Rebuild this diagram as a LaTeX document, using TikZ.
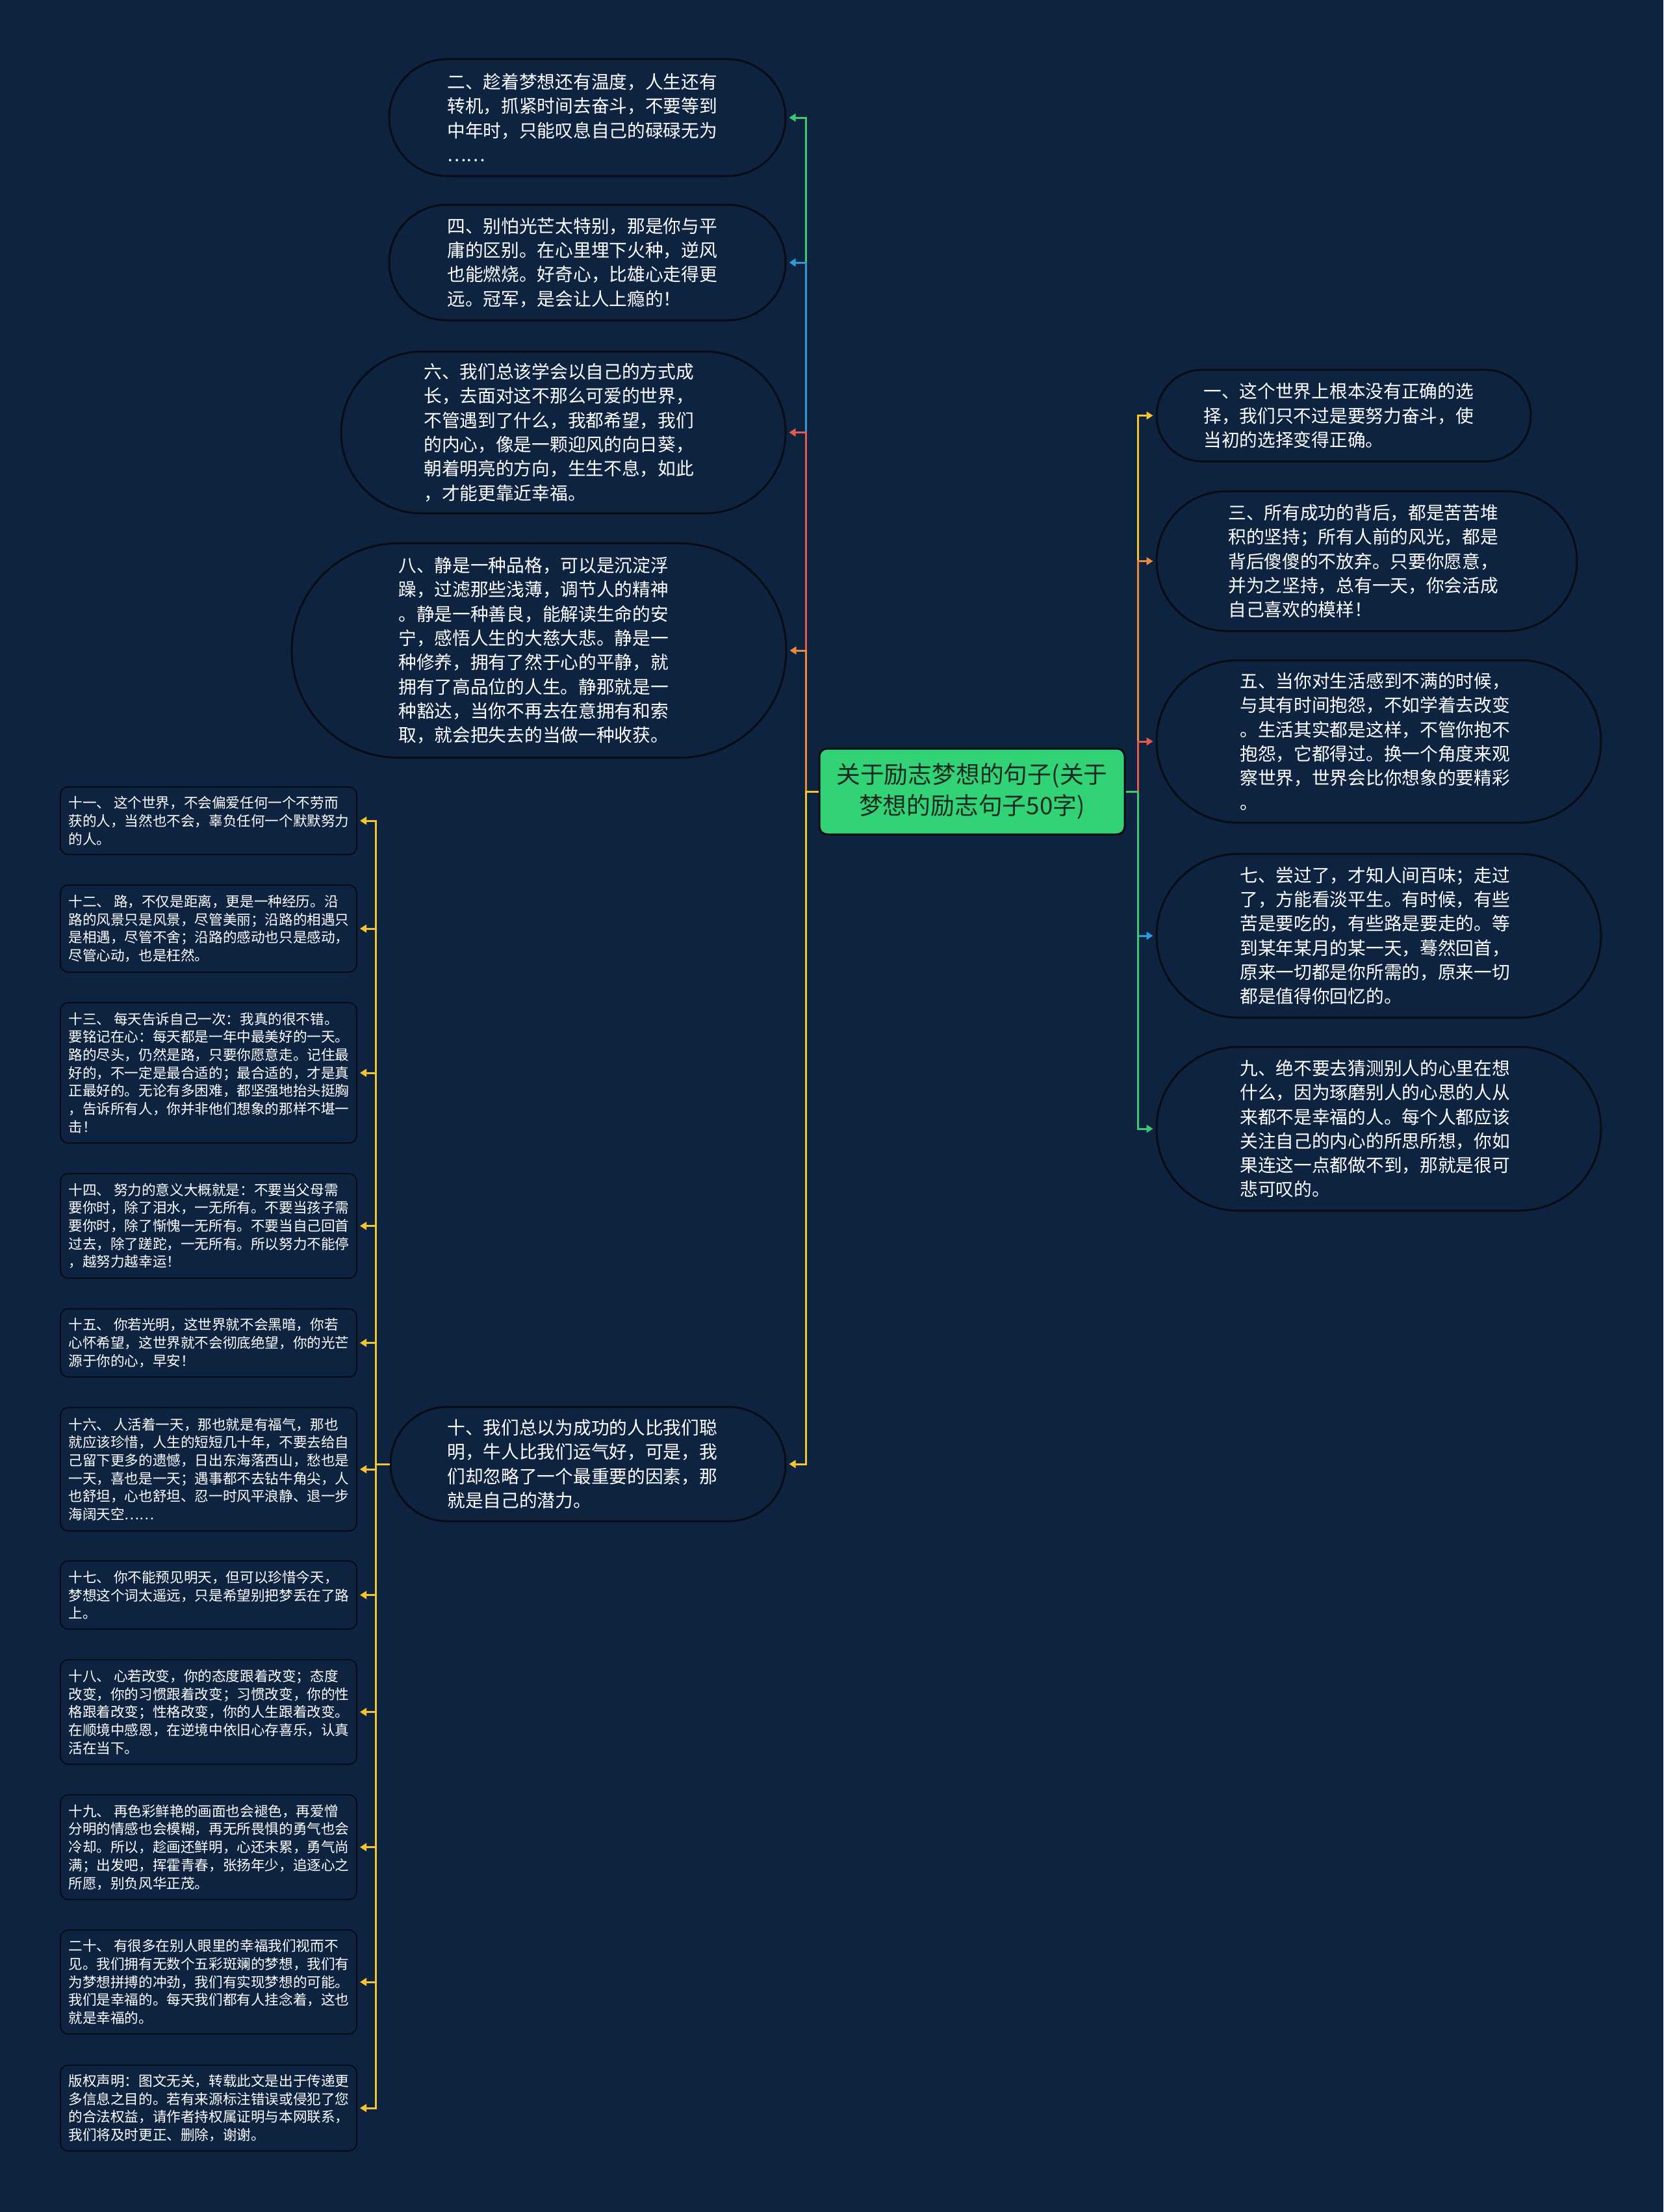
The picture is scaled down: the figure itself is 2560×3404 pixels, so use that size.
\documentclass[tikz,border=0pt]{standalone}
\usepackage{fontspec}
\setmainfont{Noto Sans CJK SC}
\usetikzlibrary{arrows.meta}
\definecolor{bg}{HTML}{0E2340}
\definecolor{edge}{HTML}{080C14}
\definecolor{rootfill}{HTML}{31D376}
\definecolor{roottext}{HTML}{1B2A22}
\definecolor{lgreen}{HTML}{3DC96F}
\definecolor{lblue}{HTML}{2B9BDB}
\definecolor{lred}{HTML}{E55A4B}
\definecolor{lorange}{HTML}{E98A3A}
\definecolor{lyellow}{HTML}{F5C62C}
\begin{document}
\begin{tikzpicture}[x=0.5pt,y=-0.5pt,
  bignode/.style 2 args={draw=edge, line width=1.5pt, fill=bg, rectangle, rounded corners=#2*0.2495pt, minimum width=#1*0.5pt, minimum height=#2*0.5pt, inner sep=0pt},
  smallnode/.style={draw=edge, line width=1pt, fill=bg, rectangle, rounded corners=6pt, minimum width=228pt, minimum height=#1*0.5pt, inner sep=0pt},
  bigtext/.style={anchor=west, align=left, text=white, inner sep=0pt, font=\fontsize{13.85pt}{18.65pt}\selectfont},
  smalltext/.style={anchor=west, align=left, text=white, inner sep=0pt, font=\fontsize{10.8pt}{13.85pt}\selectfont},
  conn/.style={line width=1.5pt, -{Triangle[length=5pt,width=6pt]}, shorten >=2pt}
]
\fill[bg] (0,0) rectangle (2560,3404);
\useasboundingbox (0,0) rectangle (2560,3404);

% central node
\node[draw=edge, line width=1.5pt, fill=rootfill, rounded corners=6pt, minimum width=235pt, minimum height=66pt, inner sep=0pt, text=roottext, align=center, font=\fontsize{18.4pt}{24pt}\selectfont] (c) at (1496,1218) {关于励志梦想的句子(关于\\梦想的励志句子50字)};

% left upper nodes
\node[bignode={610}{180}] (n2) at (904,181) {};
\node[bigtext] (t2) at (688,181) {二、趁着梦想还有温度，人生还有\\转机，抓紧时间去奋斗，不要等到\\中年时，只能叹息自己的碌碌无为\\……};
\node[bignode={610}{178}] (n4) at (904,404) {};
\node[bigtext] (t4) at (688,404) {四、别怕光芒太特别，那是你与平\\庸的区别。在心里埋下火种，逆风\\也能燃烧。好奇心，比雄心走得更\\远。冠军，是会让人上瘾的！};
\node[bignode={684}{249}] (n6) at (867,665.5) {};
\node[bigtext] (t6) at (652,665.5) {六、我们总该学会以自己的方式成\\长，去面对这不那么可爱的世界，\\不管遇到了什么，我都希望，我们\\的内心，像是一颗迎风的向日葵，\\朝着明亮的方向，生生不息，如此\\，才能更靠近幸福。};
\node[bignode={761}{330}] (n8) at (829.5,1001) {};
\node[bigtext] (t8) at (613,1001) {八、静是一种品格，可以是沉淀浮\\躁，过滤那些浅薄，调节人的精神\\。静是一种善良，能解读生命的安\\宁，感悟人生的大慈大悲。静是一\\种修养，拥有了然于心的平静，就\\拥有了高品位的人生。静那就是一\\种豁达，当你不再去在意拥有和索\\取，就会把失去的当做一种收获。};
\node[bignode={608}{176}] (n10) at (905,2253) {};
\node[bigtext] (t10) at (688,2253) {十、我们总以为成功的人比我们聪\\明，牛人比我们运气好，可是，我\\们却忽略了一个最重要的因素，那\\就是自己的潜力。};

% right nodes
\node[bignode={576}{141}] (n1) at (2068,639.5) {};
\node[bigtext] (t1) at (1852,639.5) {一、这个世界上根本没有正确的选\\择，我们只不过是要努力奋斗，使\\当初的选择变得正确。};
\node[bignode={647}{215}] (n3) at (2103.5,863.5) {};
\node[bigtext] (t3) at (1890,863.5) {三、所有成功的背后，都是苦苦堆\\积的坚持；所有人前的风光，都是\\背后傻傻的不放弃。只要你愿意，\\并为之坚持，总有一天，你会活成\\自己喜欢的模样！};
\node[bignode={684}{250}] (n5) at (2122,1141) {};
\node[bigtext] (t5) at (1908,1141) {五、当你对生活感到不满的时候，\\与其有时间抱怨，不如学着去改变\\。生活其实都是这样，不管你抱不\\抱怨，它都得过。换一个角度来观\\察世界，世界会比你想象的要精彩\\。};
\node[bignode={684}{252}] (n7) at (2122,1440) {};
\node[bigtext] (t7) at (1908,1440) {七、尝过了，才知人间百味；走过\\了，方能看淡平生。有时候，有些\\苦是要吃的，有些路是要走的。等\\到某年某月的某一天，蓦然回首，\\原来一切都是你所需的，原来一切\\都是值得你回忆的。};
\node[bignode={684}{252}] (n9) at (2122,1737) {};
\node[bigtext] (t9) at (1908,1737) {九、绝不要去猜测别人的心里在想\\什么，因为琢磨别人的心思的人从\\来都不是幸福的人。每个人都应该\\关注自己的内心的所思所想，你如\\果连这一点都做不到，那就是很可\\悲可叹的。};

% small nodes
\node[smallnode=104] (s11) at (321,1263) {};
\node[smalltext] (u11) at (105,1263) {十一、 这个世界，不会偏爱任何一个不劳而\\获的人，当然也不会，辜负任何一个默默努力\\的人。};
\node[smallnode=134] (s12) at (321,1429) {};
\node[smalltext] (u12) at (105,1429) {十二、 路，不仅是距离，更是一种经历。沿\\路的风景只是风景，尽管美丽；沿路的相遇只\\是相遇，尽管不舍；沿路的感动也只是感动，\\尽管心动，也是枉然。};
\node[smallnode=216] (s13) at (321,1651) {};
\node[smalltext] (u13) at (105,1651) {十三、 每天告诉自己一次：我真的很不错。\\要铭记在心：每天都是一年中最美好的一天。\\路的尽头，仍然是路，只要你愿意走。记住最\\好的，不一定是最合适的；最合适的，才是真\\正最好的。无论有多困难，都坚强地抬头挺胸\\，告诉所有人，你并非他们想象的那样不堪一\\击！};
\node[smallnode=161] (s14) at (321,1886.5) {};
\node[smalltext] (u14) at (105,1886.5) {十四、 努力的意义大概就是：不要当父母需\\要你时，除了泪水，一无所有。不要当孩子需\\要你时，除了惭愧一无所有。不要当自己回首\\过去，除了蹉跎，一无所有。所以努力不能停\\，越努力越幸运！};
\node[smallnode=105] (s15) at (321,2066.5) {};
\node[smalltext] (u15) at (105,2066.5) {十五、 你若光明，这世界就不会黑暗，你若\\心怀希望，这世界就不会彻底绝望，你的光芒\\源于你的心，早安！};
\node[smallnode=190] (s16) at (321,2261) {};
\node[smalltext] (u16) at (105,2261) {十六、 人活着一天，那也就是有福气，那也\\就应该珍惜，人生的短短几十年，不要去给自\\己留下更多的遗憾，日出东海落西山，愁也是\\一天，喜也是一天；遇事都不去钻牛角尖，人\\也舒坦，心也舒坦、忍一时风平浪静、退一步\\海阔天空……};
\node[smallnode=105] (s17) at (321,2454.5) {};
\node[smalltext] (u17) at (105,2454.5) {十七、 你不能预见明天，但可以珍惜今天，\\梦想这个词太遥远，只是希望别把梦丢在了路\\上。};
\node[smallnode=161] (s18) at (321,2634.5) {};
\node[smalltext] (u18) at (105,2634.5) {十八、 心若改变，你的态度跟着改变；态度\\改变，你的习惯跟着改变；习惯改变，你的性\\格跟着改变；性格改变，你的人生跟着改变。\\在顺境中感恩，在逆境中依旧心存喜乐，认真\\活在当下。};
\node[smallnode=161] (s19) at (321,2842.5) {};
\node[smalltext] (u19) at (105,2842.5) {十九、 再色彩鲜艳的画面也会褪色，再爱憎\\分明的情感也会模糊，再无所畏惧的勇气也会\\冷却。所以，趁画还鲜明，心还未累，勇气尚\\满；出发吧，挥霍青春，张扬年少，追逐心之\\所愿，别负风华正茂。};
\node[smallnode=160] (s20) at (321,3050) {};
\node[smalltext] (u20) at (105,3050) {二十、 有很多在别人眼里的幸福我们视而不\\见。我们拥有无数个五彩斑斓的梦想，我们有\\为梦想拼搏的冲劲，我们有实现梦想的可能。\\我们是幸福的。每天我们都有人挂念着，这也\\就是幸福的。};
\node[smallnode=132] (scp) at (321,3244) {};
\node[smalltext] (ucp) at (105,3244) {版权声明：图文无关，转载此文是出于传递更\\多信息之目的。若有来源标注错误或侵犯了您\\的合法权益，请作者持权属证明与本网联系，\\我们将及时更正、删除，谢谢。};

% trunk coordinates
\path (c.west) ++(-19,0) coordinate (L);
\path (c.east) ++(19,0) coordinate (R);
\path (n10.west) ++(-21,0) coordinate (LL);

% left upper connectors
\draw[conn, lgreen] (c.west) -- (L) |- (n2.east);
\draw[conn, lblue] (c.west) -- (L) |- (n4.east);
\draw[conn, lred] (c.west) -- (L) |- (n6.east);
\draw[conn, lorange] (c.west) -- (L) |- (n8.east);
\draw[conn, lyellow] (c.west) -- (L) |- (n10.east);

% right connectors
\draw[conn, lyellow] (c.east) -- (R) |- (n1.west);
\draw[conn, lorange] (c.east) -- (R) |- (n3.west);
\draw[conn, lred] (c.east) -- (R) |- (n5.west);
\draw[conn, lblue] (c.east) -- (R) |- (n7.west);
\draw[conn, lgreen] (c.east) -- (R) |- (n9.west);

% lower-left connectors
\foreach \s in {s11,s12,s13,s14,s15,s16,s17,s18,s19,s20,scp}{
  \draw[conn, lyellow] (n10.west) -- (LL) |- (\s.east);
}
\end{tikzpicture}
\end{document}
